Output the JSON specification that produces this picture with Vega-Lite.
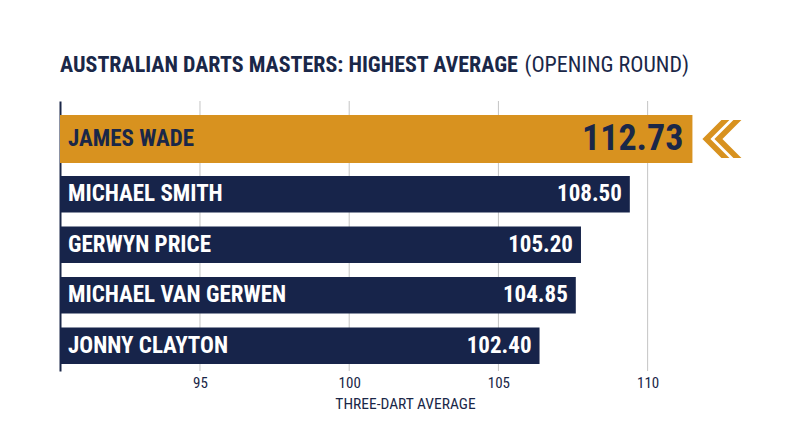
{
  "$schema": "https://vega.github.io/schema/vega-lite/v6.json",
  "width": 690,
  "height": 270,
  "autosize": {"type": "none"},
  "padding": {"left": 60, "top": 101, "right": 50, "bottom": 76},
  "background": "#ffffff",
  "title": {
    "text": "AUSTRALIAN DARTS MASTERS: HIGHEST AVERAGE",
    "subtitle": "\u200b\u00a0\u00a0\u00a0\u00a0\u00a0\u00a0\u00a0\u00a0\u00a0\u00a0\u00a0\u00a0\u00a0\u00a0\u00a0\u00a0\u00a0\u00a0\u00a0\u00a0\u00a0\u00a0\u00a0\u00a0\u00a0\u00a0\u00a0\u00a0\u00a0\u00a0\u00a0\u00a0\u00a0\u00a0\u00a0\u00a0\u00a0\u00a0\u00a0\u00a0\u00a0\u00a0\u00a0\u00a0\u00a0\u00a0\u00a0\u00a0\u00a0\u00a0\u00a0\u00a0\u00a0\u00a0\u00a0\u00a0\u00a0\u00a0\u00a0\u00a0\u00a0\u00a0\u00a0\u00a0\u00a0\u00a0\u00a0\u00a0\u00a0\u00a0\u00a0\u00a0\u00a0\u00a0\u00a0\u00a0\u00a0\u00a0\u00a0\u00a0\u00a0\u00a0\u00a0\u00a0\u00a0\u00a0\u00a0\u00a0\u00a0\u00a0\u00a0\u00a0(OPENING ROUND)",
    "anchor": "start",
    "frame": "group",
    "font": "Roboto Condensed, Liberation Sans Narrow, DejaVu Sans Condensed, sans-serif",
    "fontSize": 22,
    "fontWeight": "bold",
    "color": "#1a2748",
    "subtitleFont": "Roboto Condensed, Liberation Sans Narrow, DejaVu Sans Condensed, sans-serif",
    "subtitleFontSize": 22,
    "subtitleFontWeight": "normal",
    "subtitleColor": "#1a2748",
    "subtitlePadding": -22,
    "offset": 24
  },
  "data": {
    "values": [
      {"player": "JAMES WADE", "avg": 112.73},
      {"player": "MICHAEL SMITH", "avg": 108.50},
      {"player": "GERWYN PRICE", "avg": 105.20},
      {"player": "MICHAEL VAN GERWEN", "avg": 104.85},
      {"player": "JONNY CLAYTON", "avg": 102.40}
    ]
  },
  "layer": [
    {
      "data": {"values": [{"tick": 95}, {"tick": 100}, {"tick": 105}, {"tick": 110}]},
      "mark": {"type": "rule", "color": "#c4c4c4", "strokeWidth": 1},
      "encoding": {
        "x": {
          "field": "tick",
          "type": "quantitative",
          "scale": {"domain": [90.31, 113.43], "nice": false, "zero": false},
          "axis": {
            "orient": "bottom",
            "values": [95, 100, 105, 110],
            "title": "THREE-DART AVERAGE",
            "domain": false,
            "ticks": false,
            "grid": false,
            "labelPadding": 4,
            "labelFontSize": 15,
            "labelColor": "#1a2748",
            "titleFontSize": 15.5,
            "titleFontWeight": "normal",
            "titleColor": "#1a2748",
            "titlePadding": 6
          }
        }
      }
    },
    {
      "layer": [
        {
          "transform": [{"filter": "datum.player !== 'JAMES WADE'"}],
          "mark": {"type": "bar", "color": "#17244a"},
          "encoding": {
            "y": {
              "field": "player",
              "type": "nominal",
              "scale": {
                "domain": ["JAMES WADE", "MICHAEL SMITH", "GERWYN PRICE", "MICHAEL VAN GERWEN", "JONNY CLAYTON"],
                "paddingInner": 0.277,
                "paddingOuter": 0.312,
                "align": 0.778
              },
              "axis": {"labels": false, "ticks": false, "title": null, "domainColor": "#1a2748", "domainWidth": 2}
            },
            "x": {
              "field": "avg",
              "type": "quantitative",
              "scale": {"domain": [70, 116.62], "nice": false, "zero": false},
              "axis": null
            },
            "x2": {"datum": 70}
          }
        },
        {
          "transform": [{"filter": "datum.player === 'JAMES WADE'"}],
          "mark": {"type": "bar", "color": "#d8921f", "height": 48, "yOffset": -4.75},
          "encoding": {
            "y": {"field": "player", "type": "nominal"},
            "x": {"field": "avg", "type": "quantitative", "axis": null},
            "x2": {"datum": 70}
          }
        },
        {
          "transform": [{"filter": "datum.player !== 'JAMES WADE'"}],
          "mark": {"type": "text", "align": "left", "baseline": "middle", "dx": 8, "fontSize": 23, "fontWeight": "bold", "color": "#ffffff"},
          "encoding": {
            "y": {"field": "player", "type": "nominal"},
            "x": {"datum": 70, "type": "quantitative", "axis": null},
            "text": {"field": "player"}
          }
        },
        {
          "transform": [{"filter": "datum.player !== 'JAMES WADE'"}],
          "mark": {"type": "text", "align": "right", "baseline": "middle", "dx": -8, "fontSize": 23, "fontWeight": "bold", "color": "#ffffff"},
          "encoding": {
            "y": {"field": "player", "type": "nominal"},
            "x": {"field": "avg", "type": "quantitative", "axis": null},
            "text": {"field": "avg", "format": ".2f"}
          }
        },
        {
          "transform": [{"filter": "datum.player === 'JAMES WADE'"}],
          "mark": {"type": "text", "align": "left", "baseline": "middle", "dx": 8, "yOffset": -4.75, "fontSize": 23, "fontWeight": "bold", "color": "#1a2748"},
          "encoding": {
            "y": {"field": "player", "type": "nominal"},
            "x": {"datum": 70, "type": "quantitative", "axis": null},
            "text": {"field": "player"}
          }
        },
        {
          "transform": [{"filter": "datum.player === 'JAMES WADE'"}],
          "mark": {"type": "text", "align": "right", "baseline": "middle", "dx": -9, "yOffset": -4.75, "fontSize": 36, "fontWeight": "bold", "color": "#1a2748"},
          "encoding": {
            "y": {"field": "player", "type": "nominal"},
            "x": {"field": "avg", "type": "quantitative", "axis": null},
            "text": {"field": "avg", "format": ".2f"}
          }
        },
        {
          "transform": [{"filter": "datum.player === 'JAMES WADE'"}],
          "mark": {
            "type": "point",
            "shape": "M0 -0.95 L-0.95 0 L0 0.95 L0.4 0.95 L-0.55 0 L0.4 -0.95 Z M0.6 -0.95 L-0.35 0 L0.6 0.95 L1 0.95 L0.05 0 L1 -0.95 Z",
            "size": 1600,
            "filled": true,
            "opacity": 1,
            "strokeWidth": 0,
            "color": "#d8921f",
            "xOffset": 29,
            "yOffset": -4.75
          },
          "encoding": {
            "y": {"field": "player", "type": "nominal"},
            "x": {"field": "avg", "type": "quantitative", "axis": null}
          }
        }
      ]
    }
  ],
  "resolve": {"scale": {"x": "independent"}, "axis": {"x": "independent"}},
  "config": {
    "font": "Roboto Condensed, Liberation Sans Narrow, DejaVu Sans Condensed, sans-serif",
    "view": {"stroke": null}
  }
}
